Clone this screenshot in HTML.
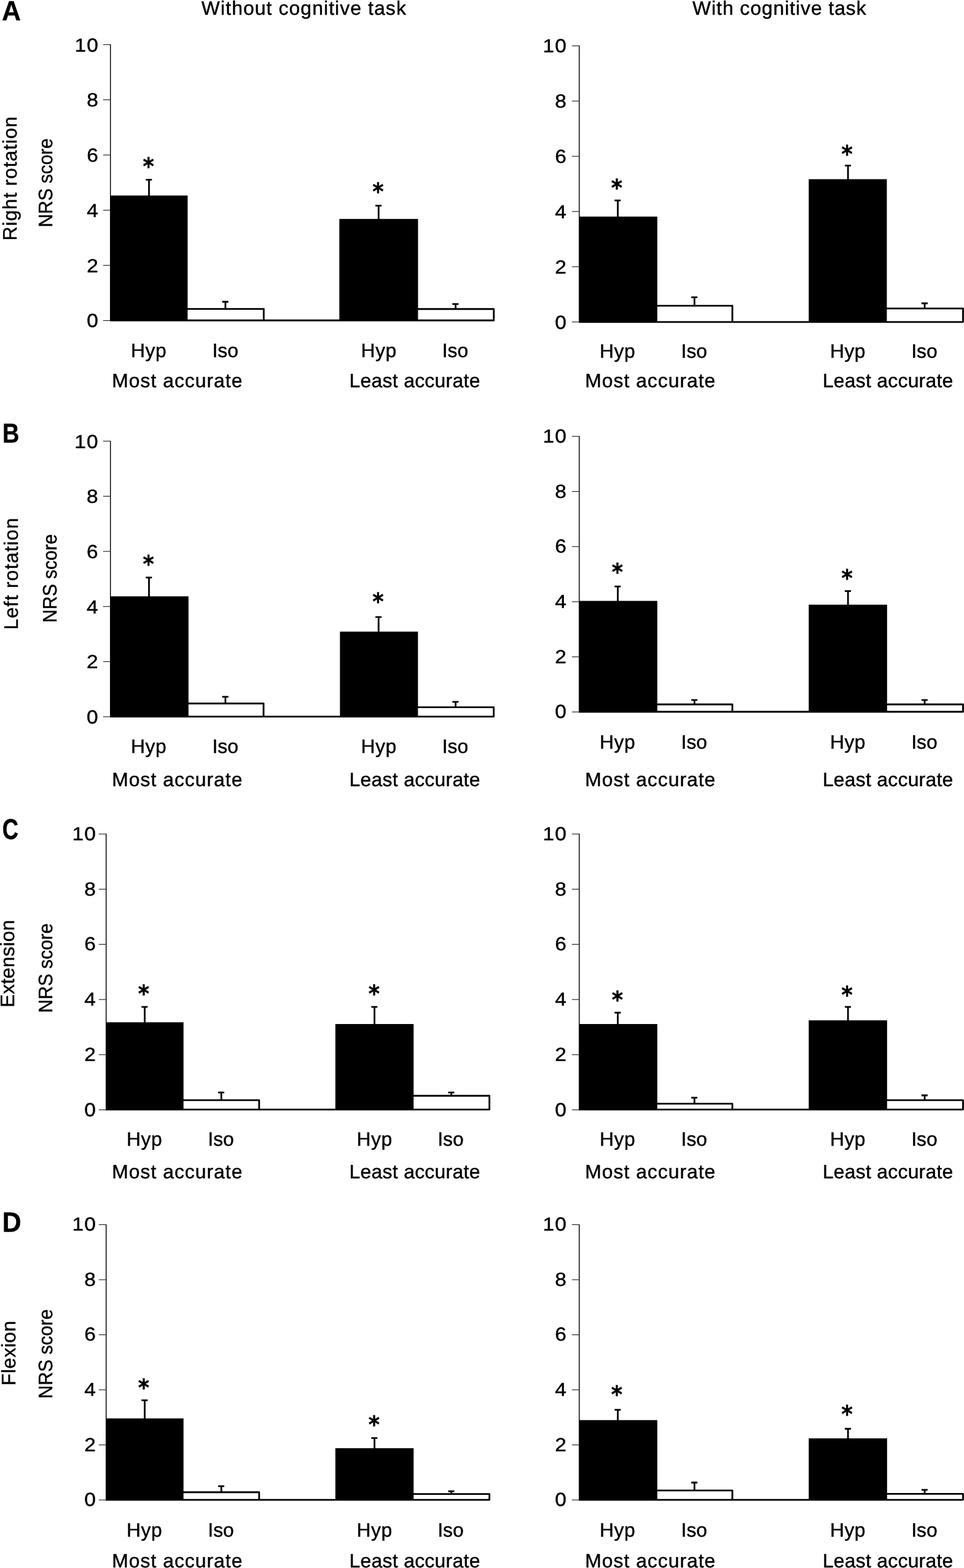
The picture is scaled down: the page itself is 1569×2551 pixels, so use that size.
<!DOCTYPE html>
<html lang="en">
<head>
<meta charset="utf-8">
<title>NRS score by movement direction, with and without cognitive task</title>
<style>
html,body{margin:0;padding:0;background:#fff;}
body{width:1569px;height:2551px;overflow:hidden;}
svg{display:block;}
text{fill:#000;stroke:#000;stroke-linejoin:round;text-rendering:geometricPrecision;}
.t{font-family:"Liberation Sans",sans-serif;font-weight:400;stroke-width:0.45px;}
.b{font-family:"Liberation Sans",sans-serif;font-weight:700;stroke-width:0.45px;}
.a{font-family:"DejaVu Sans","Liberation Sans",sans-serif;font-weight:700;stroke-width:0.5px;}
</style>
</head>
<body>
<svg width="1569" height="2551" viewBox="0 0 1569 2551">
<rect x="0" y="0" width="1569" height="2551" fill="#fff"/>
<text transform="translate(327.87 24.40)" class="t" font-size="31.80" letter-spacing="1.126">Without cognitive task</text>
<text transform="translate(1127.07 24.40)" class="t" font-size="31.80" letter-spacing="0.970">With cognitive task</text>
<text transform="translate(2.95 33.00) scale(0.9536 1)" class="b" font-size="45.00">A</text>
<text transform="translate(4.06 719.50) scale(0.8586 1)" class="b" font-size="44.20">B</text>
<text transform="translate(3.77 1365.40) scale(0.7798 1)" class="b" font-size="46.50">C</text>
<text transform="translate(3.75 2003.60) scale(0.9381 1)" class="b" font-size="45.50">D</text>
<text transform="translate(27.20 391.62) rotate(-90)" class="t" font-size="31.80" letter-spacing="1.001">Right rotation</text>
<text transform="translate(85.20 369.87) rotate(-90) scale(0.9424 1)" class="t" font-size="31.80">NRS score</text>
<text transform="translate(29.00 1024.62) rotate(-90)" class="t" font-size="31.80" letter-spacing="1.171">Left rotation</text>
<text transform="translate(92.20 1012.96) rotate(-90) scale(0.9371 1)" class="t" font-size="31.80">NRS score</text>
<text transform="translate(23.20 1638.92) rotate(-90)" class="t" font-size="31.80" letter-spacing="0.345">Extension</text>
<text transform="translate(84.70 1647.78) rotate(-90) scale(0.9464 1)" class="t" font-size="31.80">NRS score</text>
<text transform="translate(25.40 2254.22) rotate(-90)" class="t" font-size="31.80" letter-spacing="0.484">Flexion</text>
<text transform="translate(84.70 2275.38) rotate(-90) scale(0.9464 1)" class="t" font-size="31.80">NRS score</text>
<g id="chart1">
<rect x="179.00" y="72.02" width="1.45" height="448.90" fill="#000"/>
<rect x="167.82" y="72.02" width="11.90" height="1.15" fill="#222"/>
<text transform="translate(121.50 83.53) scale(1.0900 1)" class="t" font-size="30.70" letter-spacing="1.000">10</text>
<rect x="167.82" y="161.81" width="11.90" height="1.15" fill="#222"/>
<text transform="translate(141.17 173.31) scale(1.0900 1)" class="t" font-size="30.70">8</text>
<rect x="167.82" y="251.59" width="11.90" height="1.15" fill="#222"/>
<text transform="translate(141.17 263.09) scale(1.0900 1)" class="t" font-size="30.70">6</text>
<rect x="167.82" y="341.36" width="11.90" height="1.15" fill="#222"/>
<text transform="translate(141.17 352.87) scale(1.0900 1)" class="t" font-size="30.70">4</text>
<rect x="167.82" y="431.15" width="11.90" height="1.15" fill="#222"/>
<text transform="translate(141.17 442.65) scale(1.0900 1)" class="t" font-size="30.70">2</text>
<rect x="167.82" y="520.92" width="11.90" height="1.15" fill="#222"/>
<text transform="translate(141.17 532.43) scale(1.0900 1)" class="t" font-size="30.70">0</text>
<rect x="179.20" y="318.10" width="126.20" height="203.10" fill="#000"/>
<rect x="552.30" y="356.20" width="128.10" height="165.00" fill="#000"/>
<path d="M303.97 521.20V502.60H429.27V521.20" fill="#fff" stroke="#000" stroke-width="2.85" stroke-linejoin="round"/>
<path d="M179.20 521.20H803.68V502.70H678.97V521.20" fill="#fff" stroke="#000" stroke-width="2.85" stroke-linejoin="round"/>
<path d="M237.30 292.30H247.30M242.50 292.30V319.10" stroke="#000" stroke-width="2.8" fill="none"/>
<path d="M361.70 491.00H371.70M366.90 491.00V503.60" stroke="#000" stroke-width="2.8" fill="none"/>
<path d="M611.00 334.60H621.00M616.20 334.60V357.20" stroke="#000" stroke-width="2.8" fill="none"/>
<path d="M736.30 494.70H746.30M741.50 494.70V503.70" stroke="#000" stroke-width="2.8" fill="none"/>
<text class="a" transform="translate(232.43 283.69) scale(0.9040 1.0000)" font-size="38.60">*</text>
<text class="a" transform="translate(606.23 324.89) scale(0.9040 1.0000)" font-size="38.60">*</text>
<text transform="translate(212.98 580.55)" class="t" font-size="31.80" letter-spacing="0.560">Hyp</text>
<text transform="translate(345.46 580.55)" class="t" font-size="31.80" letter-spacing="0.016">Iso</text>
<text transform="translate(182.28 629.65)" class="t" font-size="31.80" letter-spacing="1.035">Most accurate</text>
<text transform="translate(587.58 580.55)" class="t" font-size="31.80" letter-spacing="0.561">Hyp</text>
<text transform="translate(719.78 580.55) scale(0.9956 1)" class="t" font-size="31.80">Iso</text>
<text transform="translate(568.58 629.65)" class="t" font-size="31.80" letter-spacing="0.324">Least accurate</text>
</g>
<g id="chart2">
<rect x="942.00" y="74.02" width="1.45" height="449.20" fill="#000"/>
<rect x="930.83" y="74.02" width="11.90" height="1.15" fill="#222"/>
<text transform="translate(883.60 85.49) scale(1.0900 1)" class="t" font-size="30.70" letter-spacing="1.000">10</text>
<rect x="930.83" y="163.87" width="11.90" height="1.15" fill="#222"/>
<text transform="translate(903.27 175.33) scale(1.0900 1)" class="t" font-size="30.70">8</text>
<rect x="930.83" y="253.70" width="11.90" height="1.15" fill="#222"/>
<text transform="translate(903.27 265.17) scale(1.0900 1)" class="t" font-size="30.70">6</text>
<rect x="930.83" y="343.55" width="11.90" height="1.15" fill="#222"/>
<text transform="translate(903.27 355.01) scale(1.0900 1)" class="t" font-size="30.70">4</text>
<rect x="930.83" y="433.38" width="11.90" height="1.15" fill="#222"/>
<text transform="translate(903.27 444.85) scale(1.0900 1)" class="t" font-size="30.70">2</text>
<rect x="930.83" y="523.22" width="11.90" height="1.15" fill="#222"/>
<text transform="translate(903.27 534.69) scale(1.0900 1)" class="t" font-size="30.70">0</text>
<rect x="942.10" y="352.40" width="127.70" height="171.40" fill="#000"/>
<rect x="1316.30" y="291.50" width="127.10" height="232.30" fill="#000"/>
<path d="M1068.38 523.80V497.40H1191.98V523.80" fill="#fff" stroke="#000" stroke-width="2.85" stroke-linejoin="round"/>
<path d="M942.10 523.80H1567.38V501.80H1441.98V523.80" fill="#fff" stroke="#000" stroke-width="2.85" stroke-linejoin="round"/>
<path d="M1000.30 326.20H1010.30M1005.50 326.20V353.40" stroke="#000" stroke-width="2.8" fill="none"/>
<path d="M1125.10 483.60H1135.10M1130.30 483.60V498.40" stroke="#000" stroke-width="2.8" fill="none"/>
<path d="M1375.00 269.40H1385.00M1380.20 269.40V292.50" stroke="#000" stroke-width="2.8" fill="none"/>
<path d="M1499.80 493.50H1509.80M1505.00 493.50V502.80" stroke="#000" stroke-width="2.8" fill="none"/>
<text class="a" transform="translate(994.63 318.99) scale(0.9040 1.0000)" font-size="38.60">*</text>
<text class="a" transform="translate(1369.43 263.59) scale(0.9040 1.0000)" font-size="38.60">*</text>
<text transform="translate(976.08 582.35)" class="t" font-size="31.80" letter-spacing="0.560">Hyp</text>
<text transform="translate(1108.57 582.35) scale(0.9982 1)" class="t" font-size="31.80">Iso</text>
<text transform="translate(952.28 629.95)" class="t" font-size="31.80" letter-spacing="1.027">Most accurate</text>
<text transform="translate(1351.08 582.35)" class="t" font-size="31.80" letter-spacing="0.460">Hyp</text>
<text transform="translate(1483.27 582.35) scale(0.9982 1)" class="t" font-size="31.80">Iso</text>
<text transform="translate(1338.88 629.95)" class="t" font-size="31.80" letter-spacing="0.294">Least accurate</text>
</g>
<g id="chart3">
<rect x="179.00" y="717.12" width="1.45" height="448.40" fill="#000"/>
<rect x="167.82" y="717.12" width="11.90" height="1.15" fill="#222"/>
<text transform="translate(121.30 728.53) scale(1.0900 1)" class="t" font-size="30.70" letter-spacing="1.000">10</text>
<rect x="167.82" y="806.80" width="11.90" height="1.15" fill="#222"/>
<text transform="translate(140.97 818.21) scale(1.0900 1)" class="t" font-size="30.70">8</text>
<rect x="167.82" y="896.48" width="11.90" height="1.15" fill="#222"/>
<text transform="translate(140.97 907.89) scale(1.0900 1)" class="t" font-size="30.70">6</text>
<rect x="167.82" y="986.16" width="11.90" height="1.15" fill="#222"/>
<text transform="translate(140.97 997.57) scale(1.0900 1)" class="t" font-size="30.70">4</text>
<rect x="167.82" y="1075.85" width="11.90" height="1.15" fill="#222"/>
<text transform="translate(140.97 1087.25) scale(1.0900 1)" class="t" font-size="30.70">2</text>
<rect x="167.82" y="1165.52" width="11.90" height="1.15" fill="#222"/>
<text transform="translate(140.97 1176.93) scale(1.0900 1)" class="t" font-size="30.70">0</text>
<rect x="179.20" y="970.20" width="127.60" height="195.70" fill="#000"/>
<rect x="553.30" y="1027.60" width="127.00" height="138.30" fill="#000"/>
<path d="M305.38 1165.90V1144.50H428.97V1165.90" fill="#fff" stroke="#000" stroke-width="2.85" stroke-linejoin="round"/>
<path d="M179.20 1165.90H803.58V1150.60H678.87V1165.90" fill="#fff" stroke="#000" stroke-width="2.85" stroke-linejoin="round"/>
<path d="M237.30 939.70H247.30M242.50 939.70V971.20" stroke="#000" stroke-width="2.8" fill="none"/>
<path d="M361.70 1133.60H371.70M366.90 1133.60V1145.50" stroke="#000" stroke-width="2.8" fill="none"/>
<path d="M611.00 1003.80H621.00M616.20 1003.80V1028.60" stroke="#000" stroke-width="2.8" fill="none"/>
<path d="M736.30 1141.90H746.30M741.50 1141.90V1151.60" stroke="#000" stroke-width="2.8" fill="none"/>
<text class="a" transform="translate(232.43 931.49) scale(0.9040 1.0000)" font-size="38.60">*</text>
<text class="a" transform="translate(606.23 992.49) scale(0.9040 1.0000)" font-size="38.60">*</text>
<text transform="translate(212.98 1225.15)" class="t" font-size="31.80" letter-spacing="0.560">Hyp</text>
<text transform="translate(345.46 1225.15)" class="t" font-size="31.80" letter-spacing="0.016">Iso</text>
<text transform="translate(182.28 1279.05)" class="t" font-size="31.80" letter-spacing="1.035">Most accurate</text>
<text transform="translate(587.58 1225.15)" class="t" font-size="31.80" letter-spacing="0.561">Hyp</text>
<text transform="translate(719.78 1225.15) scale(0.9956 1)" class="t" font-size="31.80">Iso</text>
<text transform="translate(568.58 1279.05)" class="t" font-size="31.80" letter-spacing="0.324">Least accurate</text>
</g>
<g id="chart4">
<rect x="942.00" y="709.32" width="1.45" height="448.40" fill="#000"/>
<rect x="930.83" y="709.32" width="11.90" height="1.15" fill="#222"/>
<text transform="translate(883.60 719.93) scale(1.0900 1)" class="t" font-size="30.70" letter-spacing="1.000">10</text>
<rect x="930.83" y="799.00" width="11.90" height="1.15" fill="#222"/>
<text transform="translate(903.27 809.61) scale(1.0900 1)" class="t" font-size="30.70">8</text>
<rect x="930.83" y="888.68" width="11.90" height="1.15" fill="#222"/>
<text transform="translate(903.27 899.29) scale(1.0900 1)" class="t" font-size="30.70">6</text>
<rect x="930.83" y="978.36" width="11.90" height="1.15" fill="#222"/>
<text transform="translate(903.27 988.97) scale(1.0900 1)" class="t" font-size="30.70">4</text>
<rect x="930.83" y="1068.04" width="11.90" height="1.15" fill="#222"/>
<text transform="translate(903.27 1078.65) scale(1.0900 1)" class="t" font-size="30.70">2</text>
<rect x="930.83" y="1157.72" width="11.90" height="1.15" fill="#222"/>
<text transform="translate(903.27 1168.33) scale(1.0900 1)" class="t" font-size="30.70">0</text>
<rect x="942.10" y="977.60" width="127.70" height="180.40" fill="#000"/>
<rect x="1316.30" y="983.75" width="127.50" height="174.25" fill="#000"/>
<path d="M1068.38 1158.00V1146.00H1191.98V1158.00" fill="#fff" stroke="#000" stroke-width="2.85" stroke-linejoin="round"/>
<path d="M942.10 1158.00H1567.38V1146.00H1442.38V1158.00" fill="#fff" stroke="#000" stroke-width="2.85" stroke-linejoin="round"/>
<path d="M1000.30 954.20H1010.30M1005.50 954.20V978.60" stroke="#000" stroke-width="2.8" fill="none"/>
<path d="M1125.10 1138.90H1135.10M1130.30 1138.90V1147.00" stroke="#000" stroke-width="2.8" fill="none"/>
<path d="M1375.00 961.70H1385.00M1380.20 961.70V984.75" stroke="#000" stroke-width="2.8" fill="none"/>
<path d="M1499.80 1138.90H1509.80M1505.00 1138.90V1147.00" stroke="#000" stroke-width="2.8" fill="none"/>
<text class="a" transform="translate(995.63 944.19) scale(0.9040 1.0000)" font-size="38.60">*</text>
<text class="a" transform="translate(1369.43 954.19) scale(0.9040 1.0000)" font-size="38.60">*</text>
<text transform="translate(976.08 1217.75)" class="t" font-size="31.80" letter-spacing="0.560">Hyp</text>
<text transform="translate(1108.57 1217.75) scale(0.9982 1)" class="t" font-size="31.80">Iso</text>
<text transform="translate(952.28 1278.75)" class="t" font-size="31.80" letter-spacing="1.027">Most accurate</text>
<text transform="translate(1351.08 1217.75)" class="t" font-size="31.80" letter-spacing="0.460">Hyp</text>
<text transform="translate(1483.27 1217.75) scale(0.9982 1)" class="t" font-size="31.80">Iso</text>
<text transform="translate(1338.88 1278.75)" class="t" font-size="31.80" letter-spacing="0.294">Least accurate</text>
</g>
<g id="chart5">
<rect x="172.00" y="1356.33" width="1.45" height="448.70" fill="#000"/>
<rect x="160.82" y="1356.33" width="11.90" height="1.15" fill="#222"/>
<text transform="translate(117.50 1366.89) scale(1.0900 1)" class="t" font-size="30.70" letter-spacing="1.000">10</text>
<rect x="160.82" y="1446.07" width="11.90" height="1.15" fill="#222"/>
<text transform="translate(137.17 1456.63) scale(1.0900 1)" class="t" font-size="30.70">8</text>
<rect x="160.82" y="1535.81" width="11.90" height="1.15" fill="#222"/>
<text transform="translate(137.17 1546.37) scale(1.0900 1)" class="t" font-size="30.70">6</text>
<rect x="160.82" y="1625.54" width="11.90" height="1.15" fill="#222"/>
<text transform="translate(137.17 1636.11) scale(1.0900 1)" class="t" font-size="30.70">4</text>
<rect x="160.82" y="1715.28" width="11.90" height="1.15" fill="#222"/>
<text transform="translate(137.17 1725.85) scale(1.0900 1)" class="t" font-size="30.70">2</text>
<rect x="160.82" y="1805.02" width="11.90" height="1.15" fill="#222"/>
<text transform="translate(137.17 1815.59) scale(1.0900 1)" class="t" font-size="30.70">0</text>
<rect x="172.10" y="1663.20" width="126.60" height="141.90" fill="#000"/>
<rect x="545.80" y="1666.00" width="127.40" height="139.10" fill="#000"/>
<path d="M297.27 1805.10V1789.80H421.77V1805.10" fill="#fff" stroke="#000" stroke-width="2.85" stroke-linejoin="round"/>
<path d="M172.10 1805.10H796.58V1782.70H671.77V1805.10" fill="#fff" stroke="#000" stroke-width="2.85" stroke-linejoin="round"/>
<path d="M230.30 1638.10H240.30M235.50 1638.10V1664.20" stroke="#000" stroke-width="2.8" fill="none"/>
<path d="M355.00 1777.30H365.00M360.20 1777.30V1790.80" stroke="#000" stroke-width="2.8" fill="none"/>
<path d="M604.30 1638.10H614.30M609.50 1638.10V1667.00" stroke="#000" stroke-width="2.8" fill="none"/>
<path d="M729.40 1777.30H739.40M734.60 1777.30V1783.70" stroke="#000" stroke-width="2.8" fill="none"/>
<text class="a" transform="translate(224.63 1629.59) scale(0.9040 1.0000)" font-size="38.60">*</text>
<text class="a" transform="translate(599.63 1630.19) scale(0.9040 1.0000)" font-size="38.60">*</text>
<text transform="translate(206.08 1864.25)" class="t" font-size="31.80" letter-spacing="0.510">Hyp</text>
<text transform="translate(338.26 1864.25)" class="t" font-size="31.80" letter-spacing="0.066">Iso</text>
<text transform="translate(182.28 1916.75)" class="t" font-size="31.80" letter-spacing="1.035">Most accurate</text>
<text transform="translate(580.58 1864.25)" class="t" font-size="31.80" letter-spacing="0.561">Hyp</text>
<text transform="translate(712.27 1864.25) scale(0.9982 1)" class="t" font-size="31.80">Iso</text>
<text transform="translate(568.58 1916.75)" class="t" font-size="31.80" letter-spacing="0.324">Least accurate</text>
</g>
<g id="chart6">
<rect x="942.00" y="1356.33" width="1.45" height="448.70" fill="#000"/>
<rect x="930.83" y="1356.33" width="11.90" height="1.15" fill="#222"/>
<text transform="translate(883.60 1366.89) scale(1.0900 1)" class="t" font-size="30.70" letter-spacing="1.000">10</text>
<rect x="930.83" y="1446.07" width="11.90" height="1.15" fill="#222"/>
<text transform="translate(903.27 1456.63) scale(1.0900 1)" class="t" font-size="30.70">8</text>
<rect x="930.83" y="1535.81" width="11.90" height="1.15" fill="#222"/>
<text transform="translate(903.27 1546.37) scale(1.0900 1)" class="t" font-size="30.70">6</text>
<rect x="930.83" y="1625.54" width="11.90" height="1.15" fill="#222"/>
<text transform="translate(903.27 1636.11) scale(1.0900 1)" class="t" font-size="30.70">4</text>
<rect x="930.83" y="1715.28" width="11.90" height="1.15" fill="#222"/>
<text transform="translate(903.27 1725.85) scale(1.0900 1)" class="t" font-size="30.70">2</text>
<rect x="930.83" y="1805.02" width="11.90" height="1.15" fill="#222"/>
<text transform="translate(903.27 1815.59) scale(1.0900 1)" class="t" font-size="30.70">0</text>
<rect x="942.10" y="1666.00" width="127.70" height="139.10" fill="#000"/>
<rect x="1316.30" y="1660.00" width="127.50" height="145.10" fill="#000"/>
<path d="M1068.38 1805.10V1795.60H1191.98V1805.10" fill="#fff" stroke="#000" stroke-width="2.85" stroke-linejoin="round"/>
<path d="M942.10 1805.10H1567.38V1789.80H1442.38V1805.10" fill="#fff" stroke="#000" stroke-width="2.85" stroke-linejoin="round"/>
<path d="M1000.30 1647.50H1010.30M1005.50 1647.50V1667.00" stroke="#000" stroke-width="2.8" fill="none"/>
<path d="M1125.10 1785.90H1135.10M1130.30 1785.90V1796.60" stroke="#000" stroke-width="2.8" fill="none"/>
<path d="M1375.00 1638.10H1385.00M1380.20 1638.10V1661.00" stroke="#000" stroke-width="2.8" fill="none"/>
<path d="M1499.80 1782.00H1509.80M1505.00 1782.00V1790.80" stroke="#000" stroke-width="2.8" fill="none"/>
<text class="a" transform="translate(995.63 1640.09) scale(0.9040 1.0000)" font-size="38.60">*</text>
<text class="a" transform="translate(1369.43 1632.29) scale(0.9040 1.0000)" font-size="38.60">*</text>
<text transform="translate(976.08 1864.25)" class="t" font-size="31.80" letter-spacing="0.560">Hyp</text>
<text transform="translate(1108.57 1864.25) scale(0.9982 1)" class="t" font-size="31.80">Iso</text>
<text transform="translate(952.28 1916.75)" class="t" font-size="31.80" letter-spacing="1.027">Most accurate</text>
<text transform="translate(1351.08 1864.25)" class="t" font-size="31.80" letter-spacing="0.460">Hyp</text>
<text transform="translate(1483.27 1864.25) scale(0.9982 1)" class="t" font-size="31.80">Iso</text>
<text transform="translate(1338.88 1916.75)" class="t" font-size="31.80" letter-spacing="0.294">Least accurate</text>
</g>
<g id="chart7">
<rect x="172.00" y="1991.83" width="1.45" height="447.90" fill="#000"/>
<rect x="160.82" y="1991.83" width="11.90" height="1.15" fill="#222"/>
<text transform="translate(117.50 2002.33) scale(1.0900 1)" class="t" font-size="30.70" letter-spacing="1.000">10</text>
<rect x="160.82" y="2081.41" width="11.90" height="1.15" fill="#222"/>
<text transform="translate(137.17 2091.91) scale(1.0900 1)" class="t" font-size="30.70">8</text>
<rect x="160.82" y="2170.99" width="11.90" height="1.15" fill="#222"/>
<text transform="translate(137.17 2181.49) scale(1.0900 1)" class="t" font-size="30.70">6</text>
<rect x="160.82" y="2260.57" width="11.90" height="1.15" fill="#222"/>
<text transform="translate(137.17 2271.07) scale(1.0900 1)" class="t" font-size="30.70">4</text>
<rect x="160.82" y="2350.15" width="11.90" height="1.15" fill="#222"/>
<text transform="translate(137.17 2360.65) scale(1.0900 1)" class="t" font-size="30.70">2</text>
<rect x="160.82" y="2439.73" width="11.90" height="1.15" fill="#222"/>
<text transform="translate(137.17 2450.23) scale(1.0900 1)" class="t" font-size="30.70">0</text>
<rect x="172.10" y="2307.60" width="126.60" height="132.50" fill="#000"/>
<rect x="545.80" y="2356.10" width="127.40" height="84.00" fill="#000"/>
<path d="M297.27 2440.10V2427.70H421.77V2440.10" fill="#fff" stroke="#000" stroke-width="2.85" stroke-linejoin="round"/>
<path d="M172.10 2440.10H796.58V2430.60H671.77V2440.10" fill="#fff" stroke="#000" stroke-width="2.85" stroke-linejoin="round"/>
<path d="M230.30 2278.10H240.30M235.50 2278.10V2308.60" stroke="#000" stroke-width="2.8" fill="none"/>
<path d="M355.00 2417.80H365.00M360.20 2417.80V2428.70" stroke="#000" stroke-width="2.8" fill="none"/>
<path d="M604.30 2339.60H614.30M609.50 2339.60V2357.10" stroke="#000" stroke-width="2.8" fill="none"/>
<path d="M729.40 2426.10H739.40M734.60 2426.10V2431.60" stroke="#000" stroke-width="2.8" fill="none"/>
<text class="a" transform="translate(224.63 2271.29) scale(0.9040 1.0000)" font-size="38.60">*</text>
<text class="a" transform="translate(599.63 2331.09) scale(0.9040 1.0000)" font-size="38.60">*</text>
<text transform="translate(206.08 2499.55)" class="t" font-size="31.80" letter-spacing="0.510">Hyp</text>
<text transform="translate(338.26 2499.55)" class="t" font-size="31.80" letter-spacing="0.066">Iso</text>
<text transform="translate(182.28 2549.85)" class="t" font-size="31.80" letter-spacing="1.035">Most accurate</text>
<text transform="translate(580.58 2499.55)" class="t" font-size="31.80" letter-spacing="0.561">Hyp</text>
<text transform="translate(712.27 2499.55) scale(0.9982 1)" class="t" font-size="31.80">Iso</text>
<text transform="translate(568.58 2549.85)" class="t" font-size="31.80" letter-spacing="0.324">Least accurate</text>
</g>
<g id="chart8">
<rect x="942.00" y="1991.83" width="1.45" height="447.90" fill="#000"/>
<rect x="930.83" y="1991.83" width="11.90" height="1.15" fill="#222"/>
<text transform="translate(883.60 2002.33) scale(1.0900 1)" class="t" font-size="30.70" letter-spacing="1.000">10</text>
<rect x="930.83" y="2081.41" width="11.90" height="1.15" fill="#222"/>
<text transform="translate(903.27 2091.91) scale(1.0900 1)" class="t" font-size="30.70">8</text>
<rect x="930.83" y="2170.99" width="11.90" height="1.15" fill="#222"/>
<text transform="translate(903.27 2181.49) scale(1.0900 1)" class="t" font-size="30.70">6</text>
<rect x="930.83" y="2260.57" width="11.90" height="1.15" fill="#222"/>
<text transform="translate(903.27 2271.07) scale(1.0900 1)" class="t" font-size="30.70">4</text>
<rect x="930.83" y="2350.15" width="11.90" height="1.15" fill="#222"/>
<text transform="translate(903.27 2360.65) scale(1.0900 1)" class="t" font-size="30.70">2</text>
<rect x="930.83" y="2439.73" width="11.90" height="1.15" fill="#222"/>
<text transform="translate(903.27 2450.23) scale(1.0900 1)" class="t" font-size="30.70">0</text>
<rect x="942.10" y="2310.40" width="127.70" height="129.70" fill="#000"/>
<rect x="1316.30" y="2340.10" width="127.50" height="100.00" fill="#000"/>
<path d="M1068.38 2440.10V2424.90H1191.98V2440.10" fill="#fff" stroke="#000" stroke-width="2.85" stroke-linejoin="round"/>
<path d="M942.10 2440.10H1567.38V2430.40H1442.38V2440.10" fill="#fff" stroke="#000" stroke-width="2.85" stroke-linejoin="round"/>
<path d="M1000.30 2293.70H1010.30M1005.50 2293.70V2311.40" stroke="#000" stroke-width="2.8" fill="none"/>
<path d="M1125.10 2412.00H1135.10M1130.30 2412.00V2425.90" stroke="#000" stroke-width="2.8" fill="none"/>
<path d="M1375.00 2324.50H1385.00M1380.20 2324.50V2341.10" stroke="#000" stroke-width="2.8" fill="none"/>
<path d="M1499.80 2423.90H1509.80M1505.00 2423.90V2431.40" stroke="#000" stroke-width="2.8" fill="none"/>
<text class="a" transform="translate(994.63 2282.29) scale(0.9040 1.0000)" font-size="38.60">*</text>
<text class="a" transform="translate(1369.43 2314.49) scale(0.9040 1.0000)" font-size="38.60">*</text>
<text transform="translate(976.08 2499.55)" class="t" font-size="31.80" letter-spacing="0.560">Hyp</text>
<text transform="translate(1108.57 2499.55) scale(0.9982 1)" class="t" font-size="31.80">Iso</text>
<text transform="translate(952.28 2549.85)" class="t" font-size="31.80" letter-spacing="1.027">Most accurate</text>
<text transform="translate(1351.08 2499.55)" class="t" font-size="31.80" letter-spacing="0.460">Hyp</text>
<text transform="translate(1483.27 2499.55) scale(0.9982 1)" class="t" font-size="31.80">Iso</text>
<text transform="translate(1338.88 2549.85)" class="t" font-size="31.80" letter-spacing="0.294">Least accurate</text>
</g>
</svg>
</body>
</html>
